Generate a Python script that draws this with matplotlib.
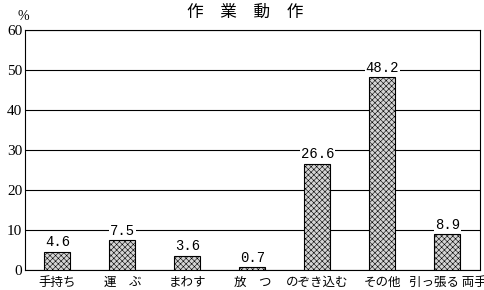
import matplotlib.pyplot as plt

plt.rcParams['font.family'] = ['Noto Sans CJK JP', 'DejaVu Sans']
plt.rcParams['hatch.color'] = '#808080'
plt.rcParams['hatch.linewidth'] = 0.4

categories = ['手持ち', '運　ぶ', 'まわす', '放　つ', 'のぞき込む', 'その他', '引っ張る 両手']
values = [4.6, 7.5, 3.6, 0.7, 26.6, 48.2, 8.9]

fig = plt.figure(figsize=(4.85, 2.9), dpi=100)
ax = fig.add_axes([25 / 485, 20 / 290, 455 / 485, 240 / 290])

x = range(len(categories))
ax.bar(x, values, width=0.4, color='#d4d4d4', edgecolor='black', linewidth=0.8,
       hatch='xxxxxx', zorder=3)
for i, v in zip(x, values):
    ax.text(i, v + 0.6, f'{v:.1f}', ha='center', va='bottom', fontsize=10,
            family='Liberation Mono', zorder=4,
            bbox=dict(facecolor='white', edgecolor='none', pad=0.5))

ax.set_xlim(-0.5, len(categories) - 0.5)
ax.set_ylim(0, 60)
ax.set_yticks(range(0, 61, 10))
ax.yaxis.grid(True, color='black', linewidth=0.8, zorder=0)
ax.tick_params(axis='y', length=0, labelsize=11, pad=2)
ax.tick_params(axis='x', length=0, labelsize=9, pad=4)
for lab in ax.get_yticklabels():
    lab.set_family('Liberation Serif')
ax.set_xticks(list(x))
ax.set_xticklabels(categories)
for s in ax.spines.values():
    s.set_linewidth(0.8)

fig.text(245 / 485, 1 - 12 / 290, '作　業　動　作', ha='center', va='center', fontsize=12)
fig.text(23 / 485, 1 - 16 / 290, '%', ha='center', va='center', fontsize=10,
         family='Liberation Serif')

fig.savefig('out.png', dpi=100)
